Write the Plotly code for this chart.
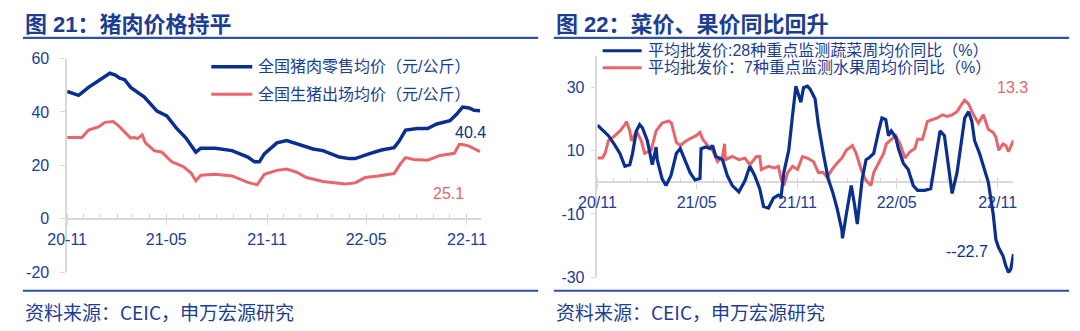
import plotly.graph_objects as go

# ---------------- data ----------------
pork_name = "全国猪肉零售均价（元/公斤）"
pork_dates = [
    "2020-11-01", "2020-11-22", "2020-12-10", "2020-12-28", "2021-01-18",
    "2021-01-27", "2021-02-05", "2021-02-14", "2021-02-25", "2021-03-22",
    "2021-04-14", "2021-05-02", "2021-05-20", "2021-06-06", "2021-06-24",
    "2021-07-03", "2021-07-30", "2021-08-29", "2021-09-27", "2021-10-09",
    "2021-10-18", "2021-10-27", "2021-11-19", "2021-12-07", "2021-12-25",
    "2022-01-12", "2022-01-24", "2022-02-11", "2022-03-13", "2022-03-31",
    "2022-04-11", "2022-05-06", "2022-05-29", "2022-06-21", "2022-06-30",
    "2022-07-12", "2022-08-03", "2022-08-21", "2022-09-07", "2022-10-01",
    "2022-10-13", "2022-10-24", "2022-11-05", "2022-11-14", "2022-11-25",
]
pork_retail = [
    47.7, 46.2, 49.2, 51.5, 54.5,
    53.9, 52.7, 52.1, 49.2, 45.6,
    40.3, 38.5, 33.8, 30.2, 24.9,
    26.4, 26.4, 25.5, 23.1, 21.3,
    21.3, 24.3, 28.4, 29.3, 28.1,
    27.2, 26.1, 25.5, 23.1, 22.5,
    22.5, 24.3, 25.7, 26.6, 29.0,
    33.2, 33.8, 33.8, 35.5, 36.7,
    39.1, 41.8, 41.5, 40.6, 40.4,
]

hog_name = "全国生猪出场均价（元/公斤）"
hog_dates = [
    "2020-11-01", "2020-11-22", "2020-11-28", "2020-12-10", "2020-12-28",
    "2021-01-09", "2021-01-24", "2021-02-02", "2021-02-14", "2021-02-25",
    "2021-03-04", "2021-03-09", "2021-03-18", "2021-03-24", "2021-04-09",
    "2021-04-23", "2021-05-11", "2021-06-01", "2021-06-15", "2021-06-24",
    "2021-07-03", "2021-07-30", "2021-08-29", "2021-09-27", "2021-10-14",
    "2021-10-27", "2021-11-19", "2021-12-07", "2021-12-25", "2022-01-12",
    "2022-02-11", "2022-03-24", "2022-04-11", "2022-04-29", "2022-05-23",
    "2022-06-21", "2022-07-03", "2022-07-12", "2022-07-27", "2022-08-21",
    "2022-09-13", "2022-10-09", "2022-10-18", "2022-10-24", "2022-11-05",
    "2022-11-25",
]
hog_price = [
    30.4, 30.2, 30.4, 33.2, 34.4,
    36.1, 36.4, 35.0, 32.6, 30.2,
    30.4, 30.0, 31.4, 28.4, 25.5,
    24.9, 21.3, 19.5, 17.2, 14.2,
    16.3, 16.6, 16.0, 13.6, 12.7,
    16.6, 18.1, 18.6, 17.4, 15.4,
    13.9, 13.0, 13.4, 15.4, 16.0,
    16.9, 20.7, 22.9, 22.2, 21.9,
    23.7, 24.5, 27.8, 27.8, 27.2,
    25.1,
]

veg_name = "平均批发价:28种重点监测蔬菜周均价同比（%）"
veg_dates = [
    "2020-11-01", "2020-11-12", "2020-11-21", "2020-12-03", "2020-12-12",
    "2020-12-21", "2020-12-30", "2021-01-04", "2021-01-11", "2021-01-17",
    "2021-01-22", "2021-01-31", "2021-02-09", "2021-02-16", "2021-02-18",
    "2021-02-27", "2021-03-06", "2021-03-15", "2021-03-25", "2021-04-01",
    "2021-04-10", "2021-04-19", "2021-04-28", "2021-05-07", "2021-05-09",
    "2021-05-18", "2021-05-25", "2021-05-30", "2021-06-05", "2021-06-17",
    "2021-06-26", "2021-07-05", "2021-07-17", "2021-07-28", "2021-08-06",
    "2021-08-15", "2021-08-24", "2021-08-31", "2021-09-09", "2021-09-18",
    "2021-09-27", "2021-10-02", "2021-10-07", "2021-10-16", "2021-10-23",
    "2021-10-29", "2021-11-07", "2021-11-12", "2021-11-19", "2021-11-24",
    "2021-12-03", "2021-12-09", "2021-12-18", "2021-12-27", "2022-01-04",
    "2022-01-12", "2022-01-21", "2022-01-22", "2022-01-29", "2022-02-07",
    "2022-02-13", "2022-02-18", "2022-02-27", "2022-03-06", "2022-03-11",
    "2022-03-20", "2022-03-29", "2022-04-04", "2022-04-11", "2022-04-16",
    "2022-04-21", "2022-04-29", "2022-05-04", "2022-05-13", "2022-05-22",
    "2022-05-31", "2022-06-08", "2022-06-21", "2022-07-02", "2022-07-11",
    "2022-07-19", "2022-07-27", "2022-08-01", "2022-08-10", "2022-08-19",
    "2022-08-28", "2022-09-02", "2022-09-09", "2022-09-15", "2022-09-20",
    "2022-09-29", "2022-10-08", "2022-10-15", "2022-10-24", "2022-10-29",
    "2022-11-03", "2022-11-11", "2022-11-16", "2022-11-21", "2022-11-25",
    "2022-11-30",
]
veg_yoy = [
    18.1, 16.3, 14.8, 11.7, 9.2,
    5.1, 5.6, 9.2, 16.3, 18.3,
    17.3, 13.2, 5.6, 11.2, 7.2,
    1.1, -1.0, 2.1, 9.2, 10.7,
    6.6, 3.1, 0.8, 1.2, 10.7,
    11.2, 10.7, 11.7, 8.2, 7.2,
    2.1, -1.0, -3.0, 0.5, 5.1,
    2.1, -2.0, -7.6, -8.1, -5.0,
    -4.0, -4.5, 3.1, 10.2, 21.4,
    30.5, 25.4, 30.0, 30.5, 29.5,
    26.5, 18.3, 9.2, 1.1, -3.0,
    -8.1, -15.2, -17.7, -10.1, -1.0,
    -7.1, -13.2, 1.1, 7.2, 7.7,
    9.2, 16.3, 20.4, 19.9, 14.8,
    16.3, 14.3, 10.7, 6.1, 4.1,
    -1.0, -2.5, -2.5, -2.0, 7.2,
    16.3, 14.8, 8.2, -3.5, 3.1,
    13.2, 20.4, 22.4, 19.4, 13.2,
    9.2, 4.1, 0.1, -10.1, -18.2,
    -20.7, -23.3, -26.4, -28.5, -27.5,
    -22.7,
]

fruit_name = "平均批发价：7种重点监测水果周均价同比（%）"
fruit_dates = [
    "2020-11-01", "2020-11-10", "2020-11-15", "2020-11-21", "2020-12-03",
    "2020-12-12", "2020-12-21", "2020-12-24", "2020-12-30", "2021-01-02",
    "2021-01-11", "2021-01-20", "2021-01-26", "2021-02-07", "2021-02-16",
    "2021-02-27", "2021-03-11", "2021-03-16", "2021-03-25", "2021-04-01",
    "2021-04-12", "2021-04-30", "2021-05-07", "2021-05-12", "2021-05-21",
    "2021-05-30", "2021-06-08", "2021-06-17", "2021-06-21", "2021-06-22",
    "2021-07-05", "2021-07-17", "2021-07-28", "2021-08-06", "2021-08-18",
    "2021-08-24", "2021-08-27", "2021-09-09", "2021-09-20", "2021-09-27",
    "2021-10-02", "2021-10-07", "2021-10-14", "2021-10-23", "2021-11-01",
    "2021-11-10", "2021-11-19", "2021-11-30", "2021-12-09", "2021-12-18",
    "2021-12-25", "2022-01-03", "2022-01-12", "2022-01-21", "2022-01-29",
    "2022-02-09", "2022-02-16", "2022-02-25", "2022-03-06", "2022-03-15",
    "2022-03-20", "2022-03-29", "2022-04-07", "2022-04-12", "2022-04-21",
    "2022-04-29", "2022-05-07", "2022-05-16", "2022-05-25", "2022-06-03",
    "2022-06-08", "2022-06-17", "2022-06-26", "2022-07-05", "2022-07-14",
    "2022-07-23", "2022-08-01", "2022-08-10", "2022-08-19", "2022-08-28",
    "2022-09-02", "2022-09-09", "2022-09-18", "2022-09-27", "2022-10-06",
    "2022-10-15", "2022-10-24", "2022-10-29", "2022-11-03", "2022-11-11",
    "2022-11-16", "2022-11-21", "2022-11-30",
]
fruit_yoy = [
    7.7, 7.7, 9.2, 13.2, 14.8,
    16.3, 18.3, 19.3, 16.3, 13.2,
    16.3, 13.2, 9.2, 10.2, 16.3,
    18.8, 19.5, 18.8, 12.7, 11.7,
    13.2, 14.8, 15.8, 13.7, 11.7,
    10.2, 6.6, 8.2, 12.2, 7.2,
    8.2, 7.2, 7.7, 5.6, 8.2,
    8.2, 4.1, 5.1, 4.6, 5.1,
    1.1, -1.0, 3.1, 5.1, 4.1,
    8.2, 7.7, 6.6, 3.1, 3.1,
    1.6, 4.1, 6.1, 7.7, 10.2,
    11.7, 9.2, 4.1, 0.6, -1.0,
    3.1, 6.1, 9.2, 12.2, 13.7,
    14.8, 12.2, 7.7, 9.7, 10.7,
    13.7, 13.7, 19.3, 19.8, 20.4,
    21.4, 20.9, 21.4, 22.4, 24.9,
    26.0, 24.9, 21.4, 18.8, 21.4,
    16.8, 15.8, 14.3, 10.2, 12.2,
    11.7, 9.7, 13.3,
]

left_y_ticks = [-20, 0, 20, 40, 60]
left_y_ticktext = ["-20", "0", "20", "40", "60"]
right_y_ticks = [-30, -10, 10, 30]
right_y_ticktext = ["-30", "-10", "10", "30"]

left_title = "图 21：猪肉价格持平"
right_title = "图 22：菜价、果价同比回升"
source_text = "资料来源：CEIC，申万宏源研究"

left_y_range = [-20, 60]
right_y_range = [-30, 40]

# ---------------- styling ----------------
W, H = 1080, 331
NAVY = "#0b2f8f"
RED = "#e8666b"
TEXT = "#1b3d92"
RULE = "#2f52a6"
AXIS = "#d9d9d9"
LATIN = "Liberation Sans, Arial, Noto Sans CJK SC"
CJK = "Noto Sans CJK SC, Liberation Sans"


def px(x):
    return x / W


def py(y):
    return 1 - y / H


left_dom_x = [px(48.3), px(472)]
left_dom_y = [py(278.3), py(53.3)]
right_dom_x = [px(591.7), px(1018)]
right_dom_y = [py(283.7), py(50.7)]


def zero_position(dom, rng):
    return dom[0] + (0 - rng[0]) / (rng[1] - rng[0]) * (dom[1] - dom[0])


fig = go.Figure()

fig.add_trace(go.Scatter(x=pork_dates, y=pork_retail, name=pork_name, mode="lines",
                         line=dict(color=NAVY, width=3.5), xaxis="x", yaxis="y",
                         showlegend=False))
fig.add_trace(go.Scatter(x=hog_dates, y=hog_price, name=hog_name, mode="lines",
                         line=dict(color=RED, width=3), xaxis="x", yaxis="y",
                         showlegend=False))
fig.add_trace(go.Scatter(x=fruit_dates, y=fruit_yoy, name=fruit_name, mode="lines",
                         line=dict(color=RED, width=3), xaxis="x2", yaxis="y2",
                         showlegend=False))
fig.add_trace(go.Scatter(x=veg_dates, y=veg_yoy, name=veg_name, mode="lines",
                         line=dict(color=NAVY, width=3.2), xaxis="x2", yaxis="y2",
                         showlegend=False))

common_x = dict(
    type="date", anchor="free", showline=True, linecolor=AXIS, linewidth=1.5,
    showgrid=False, zeroline=False, ticks="outside", ticklen=6, tickwidth=1.2,
    tickcolor=AXIS, tick0="2020-11-01", dtick="M6",
    minor=dict(dtick="M1", ticks="inside", ticklen=4, tickcolor=AXIS, tickwidth=1, showgrid=False),
    tickfont=dict(family=LATIN, size=16, color=TEXT), layer="below traces",
)
common_y = dict(
    showline=True, linecolor=AXIS, linewidth=1.5, showgrid=False, zeroline=False,
    ticks="outside", ticklen=5, tickwidth=1.2, tickcolor=AXIS, tickmode="array",
    tickfont=dict(family=LATIN, size=16, color=TEXT), layer="below traces",
)

fig.update_layout(
    width=W, height=H, margin=dict(l=0, r=0, t=0, b=0),
    paper_bgcolor="white", plot_bgcolor="white", showlegend=False,
    xaxis=dict(common_x, domain=left_dom_x, range=["2020-11-01", "2022-11-26"],
               position=zero_position(left_dom_y, left_y_range), tickformat="%y-%m"),
    yaxis=dict(common_y, domain=left_dom_y, range=left_y_range, anchor="x",
               tickvals=left_y_ticks, ticktext=left_y_ticktext, ticklabelstandoff=8),
    xaxis2=dict(common_x, domain=right_dom_x, range=["2020-11-01", "2022-11-30"],
                position=zero_position(right_dom_y, right_y_range), tickformat="%y/%m"),
    yaxis2=dict(common_y, domain=right_dom_y, range=right_y_range, anchor="x2",
                tickvals=right_y_ticks, ticktext=right_y_ticktext, ticklabelstandoff=3),
)

shapes = []
annotations = []

# panel titles, rules and source lines
for x0, x1, title in [(3, 531, left_title), (547, 1075, right_title)]:
    annotations.append(dict(text=f"<b>{title}</b>", x=px(x0), y=py(17), xref="paper", yref="paper",
                            xanchor="left", yanchor="middle", showarrow=False,
                            font=dict(family=LATIN, size=22, color=TEXT)))
    shapes.append(dict(type="line", xref="paper", yref="paper", x0=px(x0), x1=px(x1),
                       y0=py(31.5), y1=py(31.5), line=dict(color=RULE, width=2.2)))
    shapes.append(dict(type="line", xref="paper", yref="paper", x0=px(x0), x1=px(x1),
                       y0=py(298), y1=py(298), line=dict(color=RULE, width=2)))
    annotations.append(dict(text=source_text, x=px(x0), y=py(320), xref="paper", yref="paper",
                            xanchor="left", yanchor="middle", showarrow=False,
                            font=dict(family=CJK, size=19, color=TEXT)))

# legend entries
legend_rows = [
    (196, 238, 62, NAVY, 3.5, pork_name),
    (196, 238, 91, RED, 3, hog_name),
    (597, 637, 45, NAVY, 3, veg_name),
    (597, 637, 63, RED, 3, fruit_name),
]
for lx0, lx1, ly, color, width, label in legend_rows:
    shapes.append(dict(type="line", xref="paper", yref="paper", x0=px(lx0), x1=px(lx1),
                       y0=py(ly), y1=py(ly), line=dict(color=color, width=width)))
    annotations.append(dict(text=label, x=px(lx1 + 4), y=py(ly), xref="paper", yref="paper",
                            xanchor="left", yanchor="middle", showarrow=False,
                            font=dict(family=LATIN, size=16, color=TEXT)))

# end-of-series value labels
end_labels = [
    ("x", "y", pork_dates[-1], pork_retail[-1], f"{pork_retail[-1]:.1f}", NAVY, -10, -22),
    ("x", "y", hog_dates[-1], hog_price[-1], f"{hog_price[-1]:.1f}", RED, -32, -42),
    ("x2", "y2", fruit_dates[-1], fruit_yoy[-1], f"{fruit_yoy[-1]:.1f}", RED, -1, 53),
    ("x2", "y2", veg_dates[-1], veg_yoy[-1], f"-{veg_yoy[-1]:.1f}", NAVY, -46, 3),
]
for xr, yr, xv, yv, txt, color, dx, dy in end_labels:
    annotations.append(dict(text=txt, x=xv, y=yv, xref=xr, yref=yr, showarrow=False,
                            xanchor="center", yanchor="middle", xshift=dx, yshift=dy,
                            font=dict(family=LATIN, size=16, color=color)))

fig.update_layout(shapes=shapes, annotations=annotations)
fig.write_html("out.html")
